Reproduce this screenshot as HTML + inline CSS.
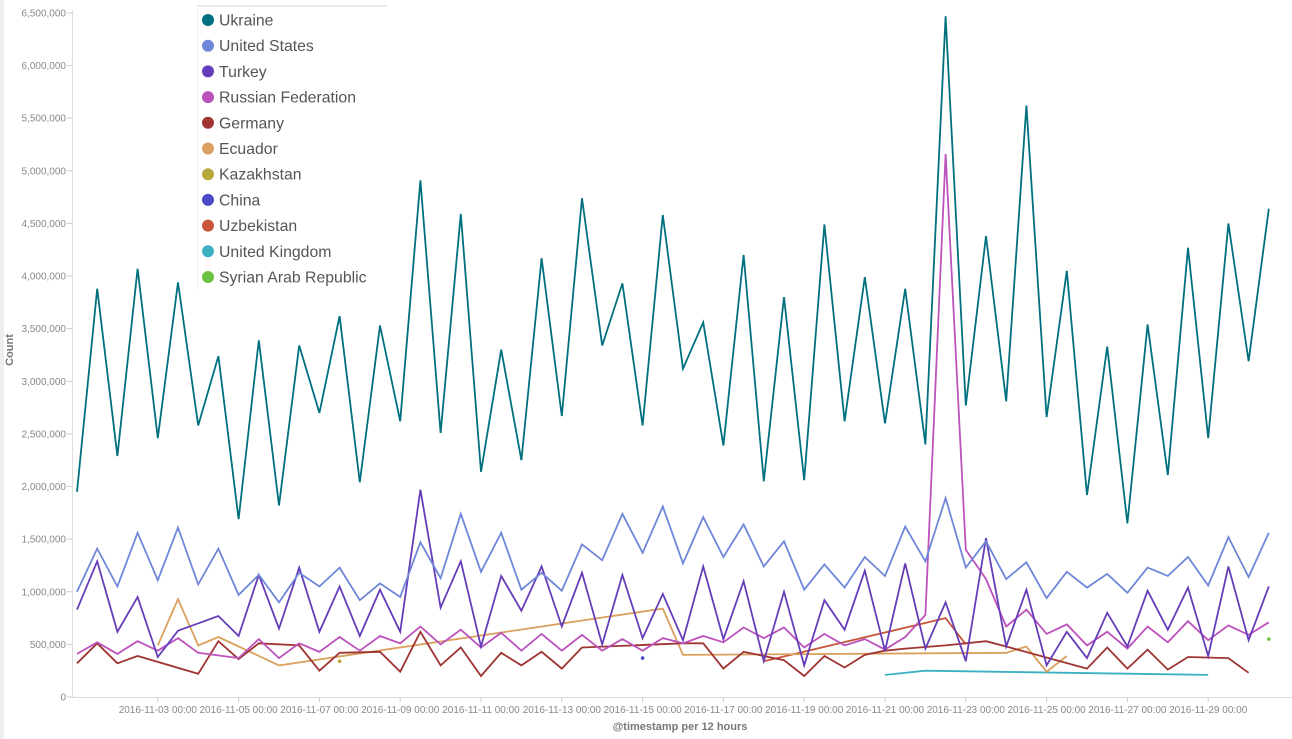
<!DOCTYPE html>
<html><head><meta charset="utf-8"><style>
html,body{margin:0;padding:0;background:#fff;width:1292px;height:739px;overflow:hidden;font-family:"Liberation Sans",sans-serif}
</style></head><body>
<svg id="s" width="1292" height="739" xmlns="http://www.w3.org/2000/svg" style="position:absolute;left:0;top:0">
<rect x="0" y="0" width="4" height="739" fill="#eceff0"/>
<line x1="72.5" y1="10" x2="72.5" y2="697" stroke="#ddd"/>
<line x1="72" y1="697.5" x2="1292" y2="697.5" stroke="#ddd"/>
<g id="yt" font-size="10" fill="#888" text-anchor="end"></g>
<g id="xt" font-size="10" fill="#888" text-anchor="middle"></g>
<text x="13" y="350" font-size="11" font-weight="bold" fill="#777" text-anchor="middle" transform="rotate(-90 13 350)">Count</text>
<text x="680" y="730" font-size="11" font-weight="bold" fill="#777" text-anchor="middle">@timestamp per 12 hours</text>
<g id="lines" fill="none" stroke-width="1.8" stroke-linejoin="miter"></g>
<g id="legend">
<rect x="197" y="5" width="190" height="285" fill="#fff"/>
<line x1="197" y1="6" x2="387" y2="6" stroke="#e6e9ea" stroke-width="2"/>
<line x1="197.5" y1="5" x2="197.5" y2="290" stroke="#eef0f1"/>
</g>
</svg>
<script>
var NS="http://www.w3.org/2000/svg";
function X(i){return 77+20.2*i;}
function Y(v){return 697-v*105.23;}
function el(t,a,p,txt){var e=document.createElementNS(NS,t);for(var k in a)e.setAttribute(k,a[k]);if(txt)e.textContent=txt;document.getElementById(p).appendChild(e);return e;}
var yt=["0","500,000","1,000,000","1,500,000","2,000,000","2,500,000","3,000,000","3,500,000","4,000,000","4,500,000","5,000,000","5,500,000","6,000,000","6,500,000"];
for(var k=0;k<14;k++){var y=697-52.62*k;el("text",{x:66,y:y+3.5},"yt",yt[k]);el("line",{x1:67,y1:y,x2:72,y2:y,stroke:"#ccc"},"yt");}
for(var d=3,i=4;d<=29;d+=2,i+=4){var x=X(i);el("text",{x:x,y:713},"xt","2016-11-"+(d<10?"0"+d:d)+" 00:00");el("line",{x1:x,y1:697,x2:x,y2:702,stroke:"#ccc"},"xt");}
var S=[
["Ukraine","#00707f",[1.95,3.88,2.29,4.07,2.46,3.94,2.58,3.24,1.69,3.39,1.82,3.34,2.7,3.62,2.04,3.53,2.62,4.91,2.51,4.59,2.14,3.3,2.25,4.17,2.67,4.74,3.34,3.93,2.58,4.58,3.12,3.56,2.39,4.2,2.05,3.8,2.06,4.49,2.62,3.99,2.6,3.88,2.4,6.47,2.77,4.38,2.81,5.62,2.66,4.05,1.92,3.33,1.65,3.54,2.11,4.27,2.46,4.5,3.19,4.64]],
["United States","#6f87d8",[1.0,1.41,1.05,1.56,1.11,1.61,1.07,1.41,0.97,1.16,0.9,1.18,1.05,1.23,0.92,1.08,0.95,1.47,1.13,1.74,1.19,1.56,1.02,1.18,1.01,1.45,1.3,1.74,1.37,1.81,1.27,1.71,1.33,1.64,1.24,1.48,1.02,1.26,1.04,1.33,1.15,1.62,1.29,1.89,1.23,1.48,1.12,1.28,0.94,1.19,1.04,1.17,0.99,1.23,1.15,1.33,1.06,1.52,1.14,1.56]],
["Turkey","#663db8",[0.83,1.29,0.62,0.95,0.38,0.63,null,0.77,0.58,1.16,0.65,1.23,0.62,1.05,0.58,1.02,0.62,1.97,0.85,1.29,0.48,1.15,0.82,1.24,0.67,1.18,0.5,1.16,0.56,0.98,0.54,1.24,0.55,1.1,0.34,1.0,0.3,0.92,0.64,1.2,0.44,1.27,0.46,0.9,0.34,1.51,0.48,1.02,0.3,0.62,0.37,0.8,0.48,1.01,0.64,1.04,0.39,1.24,0.54,1.05]],
["Russian Federation","#bc52bc",[0.41,0.52,0.41,0.53,0.44,0.56,0.42,null,0.37,0.55,0.37,0.51,0.43,0.57,0.44,0.58,0.51,0.67,0.5,0.64,0.47,0.61,0.44,0.6,0.44,0.59,0.44,0.55,0.44,0.56,0.51,0.58,0.52,0.66,0.56,0.66,0.47,0.6,0.49,0.55,0.45,0.57,0.78,5.16,1.4,1.12,0.67,0.83,0.6,0.69,0.49,0.62,0.46,0.67,0.52,0.72,0.54,0.68,0.59,0.71]],
["Germany","#9e3533",[0.32,0.51,0.32,0.39,null,null,0.22,0.53,0.36,0.51,null,0.49,0.25,0.42,null,0.43,0.24,0.62,0.3,0.47,0.2,0.42,0.3,0.43,0.27,0.47,null,null,null,null,0.51,0.51,0.27,0.43,0.39,0.35,0.2,0.39,0.28,0.4,0.44,0.46,null,0.49,null,0.53,0.48,null,null,null,0.27,0.47,0.27,0.45,0.26,0.38,null,0.37,0.23,null]],
["Ecuador","#daa05d",[null,null,null,null,0.49,0.93,0.49,0.57,null,null,0.3,null,null,null,null,null,null,null,null,null,null,null,null,null,null,null,null,null,null,0.84,0.4,null,null,null,null,null,null,null,null,null,null,null,null,null,null,null,0.42,0.48,0.24,0.39]],
["Kazakhstan","#b9a83c",[]],
["China","#4a4ac8",[]],
["Uzbekistan","#c8553a",[null,null,null,null,null,null,null,null,null,null,null,null,null,null,null,null,null,null,null,null,null,null,null,null,null,null,null,null,null,null,null,null,null,null,0.34,null,null,null,null,null,null,null,null,0.75,0.5]],
["United Kingdom","#3ab0c0",[null,null,null,null,null,null,null,null,null,null,null,null,null,null,null,null,null,null,null,null,null,null,null,null,null,null,null,null,null,null,null,null,null,null,null,null,null,null,null,null,0.21,null,0.25,null,null,null,null,null,null,null,null,null,null,null,null,null,0.21]],
["Syrian Arab Republic","#6ec040",[]]
];
for(var n=S.length-1;n>=0;n--){var d=S[n][2],pts=[];for(var i=0;i<d.length;i++)if(d[i]!=null)pts.push(X(i).toFixed(1)+","+Y(d[i]).toFixed(1));if(pts.length>1)el("polyline",{points:pts.join(" "),stroke:S[n][1]},"lines");}
el("circle",{cx:X(13),cy:Y(0.34),r:1.8,fill:"#b9a83c"},"lines");
el("circle",{cx:X(28),cy:Y(0.37),r:1.8,fill:"#4a4ac8"},"lines");
el("circle",{cx:X(59),cy:Y(0.55),r:1.8,fill:"#6ec040"},"lines");
for(var n=0;n<S.length;n++){var y=20+25.7*n;el("circle",{cx:208,cy:y,r:6,fill:S[n][1]},"legend");el("text",{x:219,y:y+5.5,"font-size":"15.8",fill:"#555"},"legend",S[n][0]);}
</script>
</body></html>
